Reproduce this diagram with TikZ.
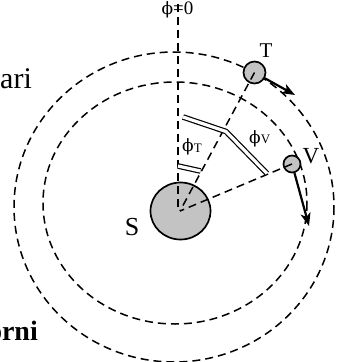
\documentclass[tikz,border=0pt]{standalone}
\usepackage{fontspec}
\setmainfont{Liberation Serif}
\newfontfamily\phifont{DejaVu Serif}
\newcommand{\myphi}{{\phifont\fontsize{17}{17}\selectfont ϕ}}
\usetikzlibrary{arrows.meta,shapes.geometric}
\definecolor{sungray}{RGB}{195,195,195}
\begin{document}
\begin{tikzpicture}[x=1pt,y=-1pt,
  orbitline/.style={line width=1.5pt, dash pattern=on 8pt off 5pt},
  radline/.style={line width=1.5pt, dash pattern=on 8pt off 5pt},
  body/.style={draw, line width=1.7pt, fill=sungray, inner sep=0pt},
  vel/.style={line width=2.2pt, -{Stealth[length=13pt,width=10pt,inset=3.5pt]}},
  marker/.style={double, double distance=3.2pt, line width=1.2pt},
  lbl/.style={inner sep=0pt, anchor=base}
]
\useasboundingbox (0,0) rectangle (345,362);
% orbits
\draw[orbitline] (174,207) ellipse [x radius=160, y radius=155];
\draw[orbitline] (175,203) ellipse [x radius=132, y radius=121];
% bodies
\node[body, ellipse, minimum width=60pt, minimum height=57pt] (S) at (180.5,211) {};
\node[body, circle, minimum size=22pt] (T) at (254.5,72.5) {};
\node[body, circle, minimum size=17pt] (V) at (292,164) {};
\coordinate (O) at (180,211);
\coordinate (top) at (178,4);
\coordinate (Ob) at (178,211);
% radial lines
\draw[radline] (top) -- (Ob);
\draw[radline] (T.center) -- (O);
\draw[radline] (V.center) -- (O);
% angle markers
\draw[marker] (178,166) -- (200.5,171);
\draw[marker] (183,117) -- (226,131.5) -- (267,173.5);
% velocities
\coordinate (Ttip) at (295,95);
\coordinate (Vtip) at (309,226);
\draw[vel] (T) -- (Ttip);
\draw[vel] (V) -- (Vtip);
% labels
\node[lbl, font=\fontsize{19}{19}\selectfont] (phizero) at (177.5,14) {\myphi=0};
\node[lbl, anchor=base west, font=\fontsize{30}{30}\selectfont] (ari) at (0,88) {ari};
\node[lbl, anchor=base east, font=\fontsize{28}{28}\selectfont\bfseries] (orni) at (38,340) {orni};
\node[lbl, font=\fontsize{26}{26}\selectfont] (lblS) at (132,235) {S};
\node[lbl, font=\fontsize{21}{21}\selectfont] (lblT) at (266,57) {T};
\node[lbl, font=\fontsize{23}{23}\selectfont] (lblV) at (311,163.5) {V};
\node[lbl, anchor=base west] (phiT) at (182,151) {\myphi\raisebox{-1.5pt}{\fontsize{13}{13}\selectfont T}};
\node[lbl, anchor=base west] (phiV) at (249,143) {\myphi{\fontsize{13}{13}\selectfont V}};
\end{tikzpicture}
\end{document}
